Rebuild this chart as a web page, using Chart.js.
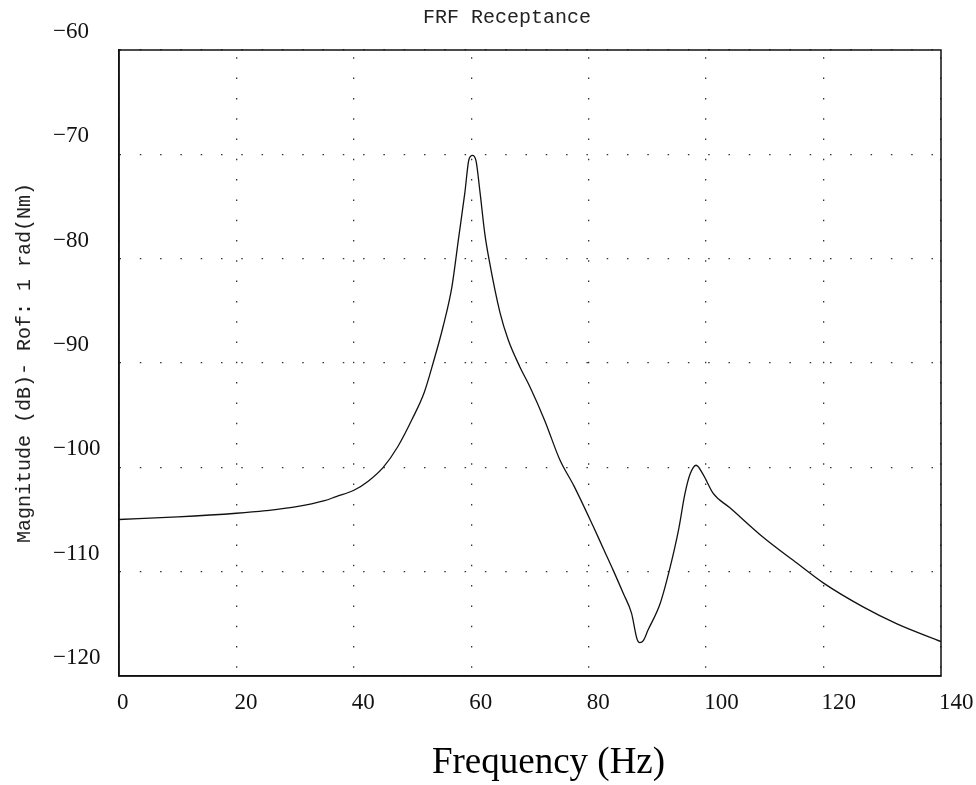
<!DOCTYPE html>
<html>
<head>
<meta charset="utf-8">
<script src="https://cdn.jsdelivr.net/npm/chart.js@4"></script>
<style>
  html, body { margin: 0; padding: 0; background: #fff; }
  #wrap { width: 976px; height: 785px; }
</style>
</head>
<body>
<div id="wrap"><canvas id="graficoFRF"></canvas></div>
<script>
// valores
const frequenciaHz = [0, 10, 20, 25, 30, 35, 37, 40, 42.5, 45, 47.5, 50, 52, 53.5, 55.2, 56.7, 57.8, 58.9, 59.6, 60.2,
    60.8, 61.5, 62.3, 63, 64.9, 66.3, 68.3, 70, 72.5, 75.1, 77.5, 80.8, 82.5, 84.2, 85.9, 87.3, 88.2, 88.7, 89.3, 90.1,
    92.2, 93.9, 95.3, 96.4, 97.3, 98.3, 99.5, 101.2, 104.1, 109.5, 115.5, 120, 126.8, 132.5, 140]
const magnitudeDb = [-105.0, -104.75, -104.4, -104.15, -103.8, -103.2, -102.8, -102.2, -101.3, -100.0, -98.0, -95.3, -92.8, -90.0, -86.5, -82.7, -78.2, -73.7, -70.5, -70.1,
    -70.6, -73.7, -77.6, -80.0, -85.2, -87.8, -90.4, -92.3, -95.5, -99.3, -101.8, -105.7, -107.8, -109.9, -112.1, -114.0, -116.4, -116.8, -116.6, -115.6,
    -113.0, -109.5, -106.0, -102.5, -100.6, -99.8, -100.7, -102.5, -103.9, -106.6, -109.2, -111.1, -113.4, -115.0, -116.7]
const ticksX = [0, 20, 40, 60, 80, 100, 120, 140]
const ticksY = [-60, -70, -80, -90, -100, -110, -120]

const chartAreaBorder = {
    id: 'chartAreaBorder',
    afterDraw(chart, args, options) {
        const { ctx, chartArea: { left, top, width, height } } = chart
        ctx.save()
        ctx.strokeStyle = options.borderColor
        ctx.lineWidth = options.borderWidth
        ctx.strokeRect(left, top, width, height)
        ctx.restore()
    }
}

new Chart(document.getElementById('graficoFRF'), {
    type: 'line',
    data: {
        datasets: [{
            label: 'FRF',
            data: frequenciaHz.map((f, i) => ({ x: f, y: magnitudeDb[i] })),
            borderColor: '#111',
            borderWidth: 1.3,
            pointRadius: 0,
            cubicInterpolationMode: 'monotone',
            fill: false
        }]
    },
    options: {
        responsive: true,
        maintainAspectRatio: false,
        animation: false,
        layout: {
            padding: { left: 73, right: 35, top: 0, bottom: 0 }
        },
        plugins: {
            legend: { display: false },
            tooltip: { enabled: false },
            title: {
                display: true,
                text: 'FRF Receptance',
                color: '#222',
                font: { family: 'Liberation Mono', size: 20, weight: 'normal' },
                padding: { top: 6, bottom: 20 }
            },
            chartAreaBorder: {
                borderColor: '#111',
                borderWidth: 1.5
            }
        },
        scales: {
            x: {
                type: 'linear',
                min: 0,
                max: 140,
                afterBuildTicks: scale => { scale.ticks = ticksX.map(v => ({ value: v })) },
                afterFit: scale => {
                    scale.height = 109
                    scale.paddingLeft = 0
                    scale.paddingRight = 0
                },
                ticks: {
                    align: 'start',
                    labelOffset: -2,
                    padding: 13,
                    color: '#111',
                    font: { family: 'Liberation Serif', size: 23 }
                },
                grid: {
                    color: '#333',
                    lineWidth: 1.3,
                    drawTicks: false
                },
                border: {
                    color: '#111',
                    width: 1.5,
                    dash: [1.5, 18.8],
                    dashOffset: 13
                },
                title: {
                    display: true,
                    // espaços à esquerda empurram o título um pouco para a direita, como no original
                    text: '    Frequency (Hz)',
                    color: '#000',
                    font: { family: 'Liberation Serif', size: 37 },
                    padding: { top: 0, bottom: 0 }
                }
            },
            y: {
                type: 'linear',
                min: -120,
                max: -60,
                afterBuildTicks: scale => { scale.ticks = ticksY.map(v => ({ value: v })) },
                afterFit: scale => {
                    scale.width = 46
                    scale.paddingTop = 0
                    scale.paddingBottom = 0
                },
                ticks: {
                    mirror: true,
                    crossAlign: 'near',
                    padding: -66,
                    labelOffset: -18,
                    color: '#111',
                    font: { family: 'Liberation Serif', size: 23 },
                    callback: value => '\u2212' + Math.abs(value)
                },
                grid: {
                    color: '#333',
                    lineWidth: 1.3,
                    drawTicks: false
                },
                border: {
                    color: '#111',
                    width: 1.5,
                    dash: [1.5, 18.8],
                    dashOffset: 0
                },
                title: {
                    display: true,
                    text: 'Magnitude (dB)- Rof: 1 rad(Nm)',
                    color: '#222',
                    font: { family: 'Liberation Mono', size: 20 },
                    padding: { top: -60, bottom: 0 }
                }
            }
        }
    },
    plugins: [chartAreaBorder]
})
</script>
</body>
</html>
